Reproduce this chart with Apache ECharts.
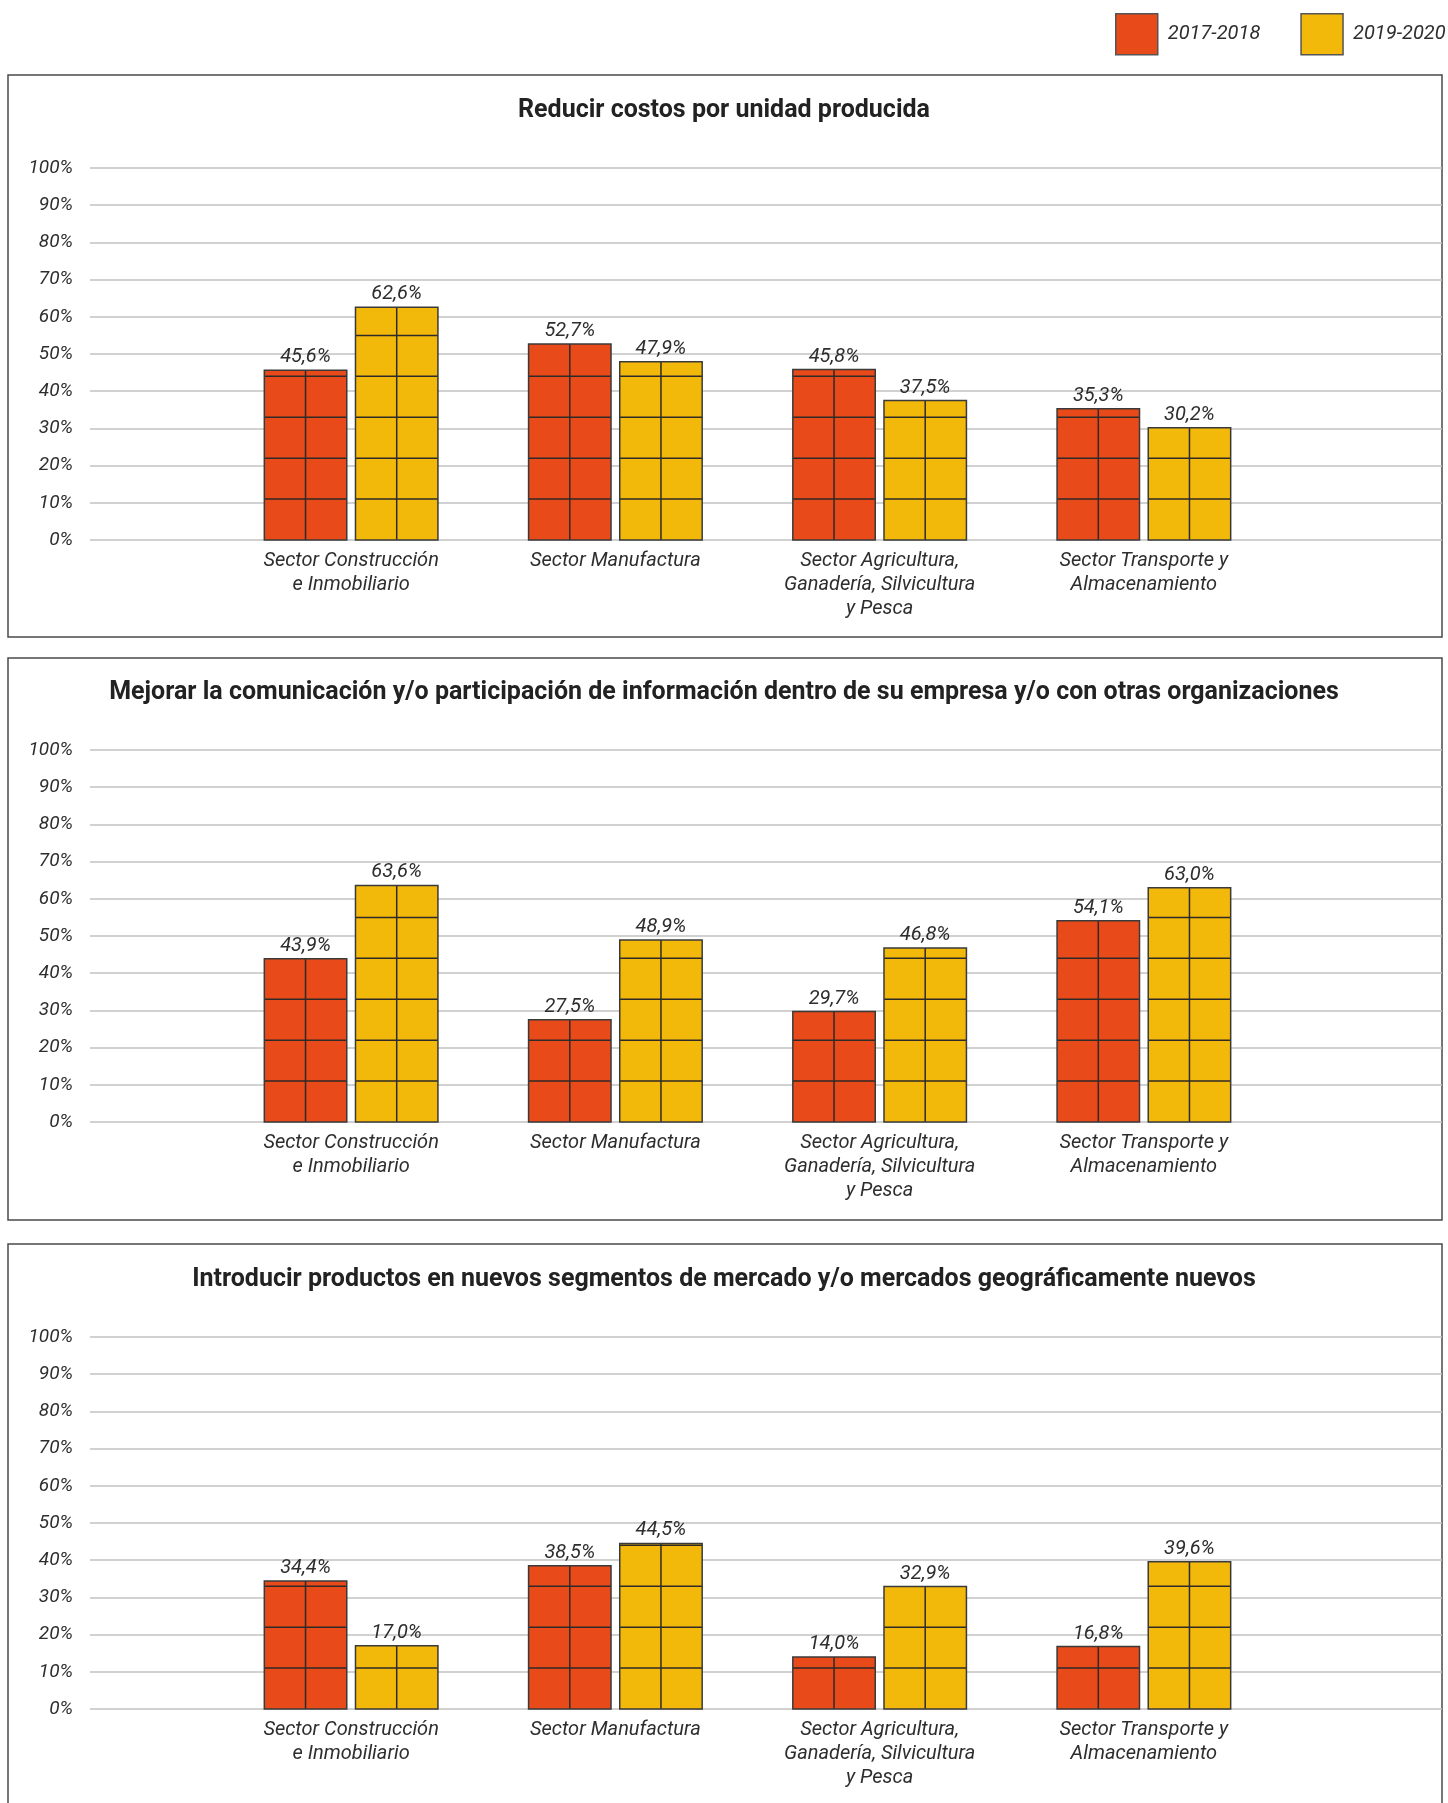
<!DOCTYPE html>
<html>
<head>
<meta charset="utf-8">
<script src="https://cdn.jsdelivr.net/npm/echarts@6/dist/echarts.min.js"></script>
<style>
html,body{margin:0;padding:0;background:#fff;}
#chart{width:1448px;height:1803px;}
</style>
</head>
<body>
<div id="chart"></div>
<script>
// ---------- DATA ----------
const categories = [
  'Sector Construcción\ne Inmobiliario',
  'Sector Manufactura',
  'Sector Agricultura,\nGanadería, Silvicultura\ny Pesca',
  'Sector Transporte y\nAlmacenamiento'
];
const seriesNames = ['2017-2018', '2019-2020'];
const panelTitles = [
  'Reducir costos por unidad producida',
  'Mejorar la comunicación y/o participación de información dentro de su empresa y/o con otras organizaciones',
  'Introducir productos en nuevos segmentos de mercado y/o mercados geográficamente nuevos'
];
const costos_2017_2018 = [45.6, 52.7, 45.8, 35.3];
const costos_2019_2020 = [62.6, 47.9, 37.5, 30.2];
const comunicacion_2017_2018 = [43.9, 27.5, 29.7, 54.1];
const comunicacion_2019_2020 = [63.6, 48.9, 46.8, 63.0];
const mercados_2017_2018 = [34.4, 38.5, 14.0, 16.8];
const mercados_2019_2020 = [17.0, 44.5, 32.9, 39.6];
const yTickValues = [0, 10, 20, 30, 40, 50, 60, 70, 80, 90, 100];
const patternStep = 11; // spacing of the horizontal lines drawn inside bars (value units)

const panelData = [
  [costos_2017_2018, costos_2019_2020],
  [comunicacion_2017_2018, comunicacion_2019_2020],
  [mercados_2017_2018, mercados_2019_2020]
];

// ---------- STYLE / LAYOUT ----------
const colors = ['#E84A1A', '#F2B90B'];
const textColor = '#2e2e2e';
const panelTops = [75, 658, 1244];
const panelHeight = 562;
const plotTops = [168, 750, 1337];
const plotHeight = 372;
const titleCenters = [109, 691, 1278];

const chart = echarts.init(document.getElementById('chart'), null, {renderer: 'canvas'});

const grids = [], xAxes = [], yAxes = [], series = [], titles = [], graphics = [];

function fmt(v) { return v.toFixed(1).replace('.', ',') + '%'; }

panelData.forEach((pd, p) => {
  // panel frame
  graphics.push({
    type: 'rect', z: -1,
    shape: {x: 8, y: panelTops[p], width: 1434, height: panelHeight},
    style: {fill: '#fff', stroke: '#4a4a4a', lineWidth: 1.5}
  });
  titles.push({
    text: panelTitles[p],
    left: 'center',
    top: titleCenters[p] - 16,
    textStyle: {fontFamily: 'Roboto', fontWeight: 'bold', fontSize: 25, color: '#222'}
  });
  // grid for y axis / gridlines
  grids.push({left: 90, right: 6, top: plotTops[p], height: plotHeight, containLabel: false});
  // grid for category bars
  grids.push({left: 219, width: 1057, top: plotTops[p], height: plotHeight, containLabel: false});
  const gA = 2 * p, gB = 2 * p + 1;
  xAxes.push({gridIndex: gA, type: 'value', min: 0, max: 1, show: false});
  yAxes.push({
    gridIndex: gA, type: 'value', min: yTickValues[0], max: yTickValues[yTickValues.length - 1],
    interval: yTickValues[1] - yTickValues[0],
    axisLine: {show: false}, axisTick: {show: false},
    splitLine: {show: true, lineStyle: {color: '#c2c2c2', width: 1.5}},
    axisLabel: {formatter: '{value}%', fontFamily: 'Roboto', fontStyle: 'italic', fontSize: 19, color: textColor, margin: 17}
  });
  xAxes.push({
    gridIndex: gB, type: 'category', data: categories,
    axisLine: {show: false}, axisTick: {show: false},
    axisLabel: {interval: 0, fontFamily: 'Roboto', fontStyle: 'italic', fontSize: 20, lineHeight: 24, color: textColor, margin: 9}
  });
  yAxes.push({gridIndex: gB, type: 'value', min: 0, max: 100, show: false});

  pd.forEach((vals, s) => {
    series.push({
      type: 'custom',
      name: seriesNames[s],
      xAxisIndex: gB, yAxisIndex: gB,
      itemStyle: {color: colors[s], borderColor: '#444', borderWidth: 1.5},
      encode: {x: 0, y: 1},
      data: vals.map((v, i) => [i, v]),
      renderItem: function (params, api) {
        const idx = api.value(0), v = api.value(1);
        const base = api.coord([idx, 0]);
        const top = api.coord([idx, v]);
        const bandW = api.size([1, 0])[0];
        const barW = bandW * 0.312;
        const gap = bandW * 0.033;
        const x = s === 0 ? base[0] - gap / 2 - barW : base[0] + gap / 2;
        const children = [{
          type: 'rect',
          shape: {x: x, y: top[1], width: barW, height: base[1] - top[1]},
          style: {fill: colors[s], stroke: 'none'}
        }];
        for (let k = patternStep; k < v; k += patternStep) {
          const y = api.coord([idx, k])[1];
          children.push({type: 'line', shape: {x1: x, y1: y, x2: x + barW, y2: y},
            style: {stroke: '#2e2a28', lineWidth: 1.5}});
        }
        children.push({type: 'line', shape: {x1: x + barW / 2, y1: top[1], x2: x + barW / 2, y2: base[1]},
          style: {stroke: '#2e2a28', lineWidth: 1.5}});
        children.push({
          type: 'rect',
          shape: {x: x, y: top[1], width: barW, height: base[1] - top[1]},
          style: {fill: 'none', stroke: '#3a3a3a', lineWidth: 1.5}
        });
        children.push({
          type: 'text',
          style: {
            text: fmt(v), x: x + barW / 2, y: top[1] - 3,
            align: 'center', verticalAlign: 'bottom',
            font: 'italic 20px Roboto', fill: textColor
          }
        });
        return {type: 'group', children: children};
      }
    });
  });
});

const option = {
  backgroundColor: '#fff',
  animation: false,
  title: titles,
  legend: {
    data: seriesNames,
    top: 13, left: 1115, padding: 0,
    itemWidth: 42, itemHeight: 41, itemGap: 40,
    icon: 'rect',
    itemStyle: {borderColor: '#555', borderWidth: 1.5},
    textStyle: {fontFamily: 'Roboto', fontStyle: 'italic', fontSize: 20, color: textColor, padding: [0, 0, 0, 5]}
  },
  graphic: graphics,
  grid: grids,
  xAxis: xAxes,
  yAxis: yAxes,
  series: series
};
chart.setOption(option);
</script>
</body>
</html>
